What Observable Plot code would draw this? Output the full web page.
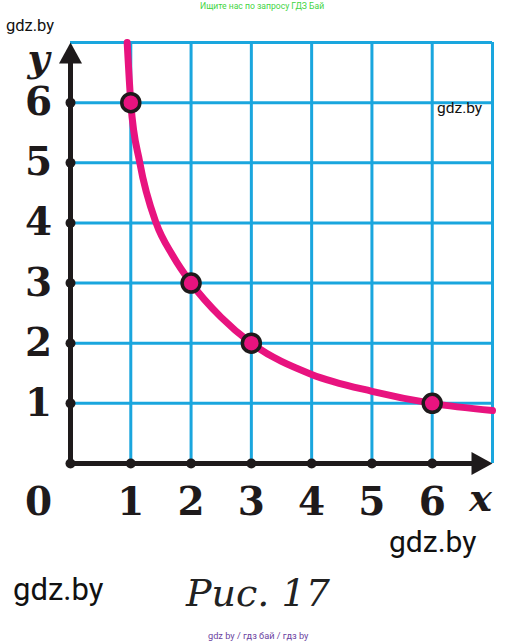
<!DOCTYPE html>
<html>
<head>
<meta charset="utf-8">
<script src="https://cdn.jsdelivr.net/npm/d3@7"></script>
<script src="https://cdn.jsdelivr.net/npm/@observablehq/plot@0.6"></script>
<style>
  html, body { margin: 0; padding: 0; background: #fff; }
  #page { position: relative; width: 525px; height: 644px; overflow: hidden; }
  #chart { position: absolute; left: 0; top: 0; }
  .wm { position: absolute; white-space: nowrap; font-family: Roboto, "Noto Sans", sans-serif; color: #111; line-height: 1; }
</style>
</head>
<body>
<div id="page">
  <div id="chart"></div>
  <div class="wm" style="left:200px;top:2px;font-size:8.6px;color:#3fd43f;">Ищите нас по запросу ГДЗ Бай</div>
  <div class="wm" style="left:6px;top:18px;font-size:16.5px;">gdz.by</div>
  <div class="wm" style="left:437px;top:101px;font-size:15.5px;">gdz.by</div>
  <div class="wm" style="left:389px;top:527px;font-size:30px;">gdz.by</div>
  <div class="wm" style="left:13px;top:574px;font-size:31px;">gdz.by</div>
  <div class="wm" style="left:186px;top:574px;font-size:38px;font-family:'DejaVu Serif',serif;font-style:italic;color:#222;">Рис. 17</div>
  <div class="wm" style="left:208px;top:631px;font-size:9.2px;color:#6b3fa0;">gdz by / гдз бай / гдз by</div>
</div>
<script>
// Tick labels
const xTicks = [1, 2, 3, 4, 5, 6];
const yTicks = [1, 2, 3, 4, 5, 6];
// Grid lines (unit squares up to 7)
const gridX = [1, 2, 3, 4, 5, 6, 7];
const gridY = [1, 2, 3, 4, 5, 6, 7];
// Axis dots
const axisDotsX = [0, 1, 2, 3, 4, 5, 6];
const axisDotsY = [1, 2, 3, 4, 5, 6];
// Curve y = 6/x
const curveX = [0.94, 1, 1.15, 1.42, 1.7, 2, 2.5, 3, 4, 5, 6, 7];
const curveY = [7, 6, 5, 4, 3.45, 3, 2.43, 2, 1.48, 1.2, 1, 0.88];
// Marked points
const pointX = [1, 2, 3, 6];
const pointY = [6, 3, 2, 1];

const curve = curveX.map((x, i) => ({x, y: curveY[i]}));
const points = pointX.map((x, i) => ({x, y: pointY[i]}));

const grid = "#1aa6de";
const pink = "#e8137f";
const ink = "#1e1a1b";

const head = {
  draw(context, l, r) {
    context.moveTo(-11.5, 0);
    context.lineTo(0, -l);
    context.lineTo(11.5, 0);
    context.closePath();
  }
};

const numFont = {fontFamily: "DejaVu Serif", fontWeight: "bold", fontSize: 39, fill: ink};

const chart = Plot.plot({
  width: 525,
  height: 540,
  marginLeft: 70,
  marginRight: 33,
  marginTop: 42,
  marginBottom: 77,
  x: {domain: [0, 7], axis: null},
  y: {domain: [0, 7], axis: null},
  marks: [
    Plot.ruleX(gridX, {x: d => d, y1: 0, y2: 7, stroke: grid, strokeWidth: 3}),
    Plot.ruleY(gridY, {y: d => d, x1: 0, x2: 7, stroke: grid, strokeWidth: 3}),
    Plot.line(curve, {x: "x", y: "y", stroke: pink, strokeWidth: 7, curve: "monotone-x"}),
    Plot.ruleX([0], {y1: 0, y2: 6.8, stroke: ink, strokeWidth: 5}),
    Plot.ruleY([0], {x1: 0, x2: 6.8, stroke: ink, strokeWidth: 5}),
    Plot.vector([{x: 0, y: 7}], {x: "x", y: "y", length: 21, anchor: "end", shape: head, fill: ink, stroke: "none"}),
    Plot.vector([{x: 7, y: 0}], {x: "x", y: "y", length: 21, anchor: "end", rotate: 90, shape: head, fill: ink, stroke: "none"}),
    Plot.dot(axisDotsX, {x: d => d, y: 0, r: 5, fill: ink, stroke: "none"}),
    Plot.dot(axisDotsY, {x: 0, y: d => d, r: 5, fill: ink, stroke: "none"}),
    Plot.dot(points, {x: "x", y: "y", r: 9, fill: pink, stroke: ink, strokeWidth: 3.5}),
    Plot.text(xTicks, {x: d => d, y: 0, text: d => String(d), dy: 39, ...numFont}),
    Plot.text(yTicks, {x: 0, y: d => d, text: d => String(d), dx: -32, ...numFont}),
    Plot.text(["0"], {x: 0, y: 0, text: d => d, dx: -32, dy: 39, ...numFont}),
    Plot.text(["y"], {x: 0, y: 7, text: d => d, dx: -32, dy: 16, fontFamily: "DejaVu Serif", fontStyle: "italic", fontWeight: "bold", fontSize: 38, fill: ink}),
    Plot.text(["x"], {x: 7, y: 0, text: d => d, dx: -12, dy: 35, fontFamily: "DejaVu Serif", fontStyle: "italic", fontWeight: "bold", fontSize: 38, fill: ink})
  ]
});
document.getElementById("chart").appendChild(chart);
</script>
</body>
</html>
